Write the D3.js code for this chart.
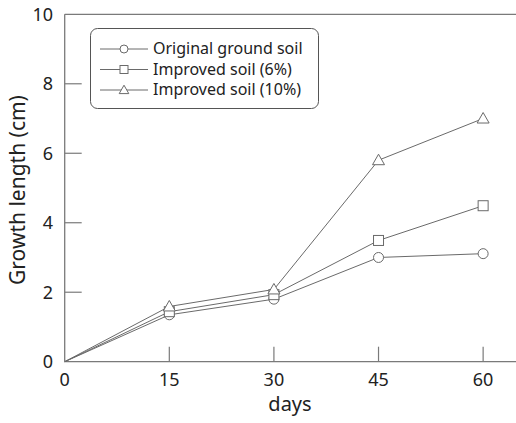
<!DOCTYPE html>
<html>
<head>
<meta charset="utf-8">
<script src="https://d3js.org/d3.v7.min.js"></script>
<style>
  body { margin: 0; background: #fff; }
  text { font-family: "Noto Sans", "Open Sans", sans-serif; fill: #222; }
</style>
</head>
<body>
<div id="chart"></div>
<script>
  var width = 516;
  var height = 423;

  // data
  var days = [0, 15, 30, 45, 60];
  var original = [0, 1.35, 1.80, 3.00, 3.11];
  var improved6 = [0, 1.44, 1.93, 3.49, 4.49];
  var improved10 = [0, 1.59, 2.08, 5.80, 7.00];
  var seriesNames = ["Original ground soil", "Improved soil (6%)", "Improved soil (10%)"];
  var markers = ["circle", "square", "triangle"];
  var xTicks = [0, 15, 30, 45, 60];
  var yTicks = [0, 2, 4, 6, 8, 10];

  var series = [original, improved6, improved10];

  var svg = d3.select("#chart")
    .append("svg")
    .attr("width", width)
    .attr("height", height);

  var x = d3.scaleLinear().domain([0, 65]).range([64.7, 518]);
  var y = d3.scaleLinear().domain([0, 10]).range([361.7, 14.3]);

  var axisColor = "#7a7a7a";

  // frame: left, top and bottom lines (no right edge in view)
  svg.append("line")
    .attr("x1", x(0)).attr("x2", x(0))
    .attr("y1", y(0)).attr("y2", y(10))
    .attr("stroke", axisColor).attr("stroke-width", 1.3);
  svg.append("line")
    .attr("x1", x(0)).attr("x2", width)
    .attr("y1", y(10)).attr("y2", y(10))
    .attr("stroke", axisColor).attr("stroke-width", 1.3);
  svg.append("line")
    .attr("x1", x(0)).attr("x2", width)
    .attr("y1", y(0)).attr("y2", y(0))
    .attr("stroke", axisColor).attr("stroke-width", 1.3);

  // y ticks (inside)
  svg.selectAll(".ytick")
    .data(yTicks.filter(function(d){ return d > 0 && d < 10; }))
    .enter()
    .append("line")
    .attr("x1", x(0)).attr("x2", x(0) + 17)
    .attr("y1", function(d){ return y(d); })
    .attr("y2", function(d){ return y(d); })
    .attr("stroke", axisColor).attr("stroke-width", 1.2);

  svg.selectAll(".ylab")
    .data(yTicks)
    .enter()
    .append("text")
    .attr("x", 53)
    .attr("y", function(d){ return y(d); })
    .attr("dy", "0.36em")
    .attr("text-anchor", "end")
    .style("font-size", "18px")
    .text(function(d){ return d; });

  // x ticks (inside)
  svg.selectAll(".xtick")
    .data(xTicks.filter(function(d){ return d > 0; }))
    .enter()
    .append("line")
    .attr("x1", function(d){ return x(d); })
    .attr("x2", function(d){ return x(d); })
    .attr("y1", y(0)).attr("y2", y(0) - 15)
    .attr("stroke", axisColor).attr("stroke-width", 1.2);

  svg.selectAll(".xlab")
    .data(xTicks)
    .enter()
    .append("text")
    .attr("x", function(d){ return x(d); })
    .attr("y", 386)
    .attr("text-anchor", "middle")
    .style("font-size", "18px")
    .text(function(d){ return d; });

  // axis titles
  svg.append("text")
    .attr("x", 290)
    .attr("y", 411)
    .attr("text-anchor", "middle")
    .style("font-size", "20px")
    .text("days");

  svg.append("text")
    .attr("transform", "translate(25,190) rotate(-90)")
    .attr("text-anchor", "middle")
    .style("font-size", "21px")
    .text("Growth length (cm)");

  var lineColor = "#6a6a6a";
  var line = d3.line()
    .x(function(d, i){ return x(days[i]); })
    .y(function(d){ return y(d); });

  function drawMarker(g, type, cx, cy, s) {
    if (type == "circle") {
      g.append("circle").attr("cx", cx).attr("cy", cy).attr("r", s)
        .attr("fill", "#fff").attr("stroke", lineColor).attr("stroke-width", 1);
    } else if (type == "square") {
      g.append("rect").attr("x", cx - s).attr("y", cy - s)
        .attr("width", 2 * s).attr("height", 2 * s)
        .attr("fill", "#fff").attr("stroke", lineColor).attr("stroke-width", 1);
    } else {
      var h = s * 1.2;
      g.append("path")
        .attr("d", "M" + cx + "," + (cy - h) + "L" + (cx + h) + "," + (cy + h * 0.75) + "L" + (cx - h) + "," + (cy + h * 0.75) + "Z")
        .attr("fill", "#fff").attr("stroke", lineColor).attr("stroke-width", 1);
    }
  }

  series.forEach(function(s, k){
    svg.append("path")
      .datum(s)
      .attr("d", line)
      .attr("fill", "none")
      .attr("stroke", lineColor)
      .attr("stroke-width", 1);
  });

  series.forEach(function(s, k){
    var g = svg.append("g");
    s.forEach(function(v, i){
      if (i == 0) return;
      drawMarker(g, markers[k], x(days[i]), y(v), 5);
    });
  });

  // legend
  var legend = svg.append("g");
  legend.append("rect")
    .attr("x", 90.5).attr("y", 28.5)
    .attr("width", 228).attr("height", 80)
    .attr("rx", 7).attr("ry", 7)
    .attr("fill", "#fff")
    .attr("stroke", "#555").attr("stroke-width", 1);

  seriesNames.forEach(function(name, k){
    var ly = 49 + k * 20.5;
    legend.append("line")
      .attr("x1", 100).attr("x2", 148)
      .attr("y1", ly).attr("y2", ly)
      .attr("stroke", lineColor).attr("stroke-width", 1);
    drawMarker(legend, markers[k], 124, ly, 4);
    legend.append("text")
      .attr("x", 153)
      .attr("y", ly)
      .attr("dy", "0.33em")
      .style("font-size", "16px")
      .text(name);
  });
</script>
</body>
</html>
